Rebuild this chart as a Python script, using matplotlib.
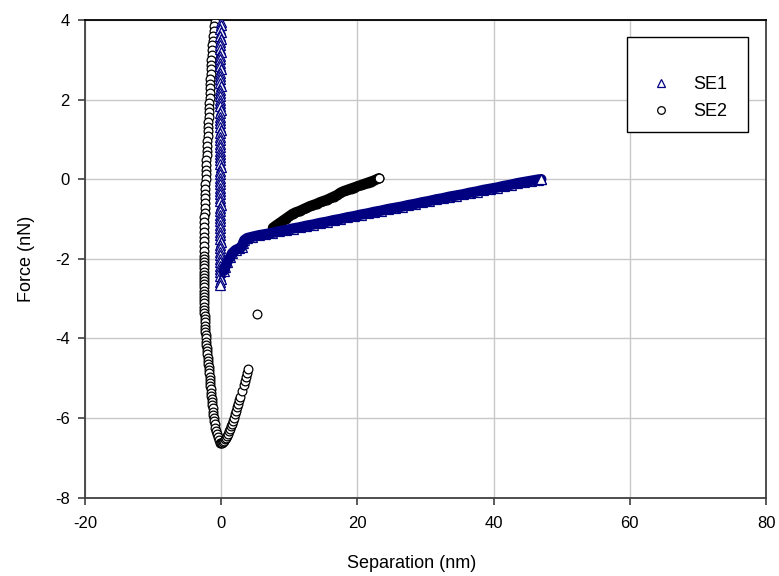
import matplotlib
matplotlib.use("Agg")
import matplotlib.pyplot as plt
from matplotlib.patches import Rectangle

plt.rcParams['font.family'] = ['Liberation Sans', 'DejaVu Sans']
plt.rcParams['axes.unicode_minus'] = False

# ---------------- data ----------------
x_lim = [-20, 80]
y_lim = [-8, 4]
x_ticks = [-20, 0, 20, 40, 60, 80]
y_ticks = [-8, -6, -4, -2, 0, 2, 4]
x_label = "Separation (nm)"
y_label = "Force (nN)"
series_names = ["SE1", "SE2"]

# SE1 approach (vertical contact column)
se1_app_y = [3.95, 3.87, 3.78, 3.70, 3.61, 3.53, 3.44, 3.36, 3.27, 3.19,
             3.10, 3.02, 2.93, 2.85, 2.76, 2.68, 2.59, 2.51, 2.42, 2.34,
             2.25, 2.17, 2.08, 2.00, 1.91, 1.83, 1.74, 1.66, 1.57, 1.49,
             1.40, 1.32, 1.23, 1.15, 1.06, 0.98, 0.89, 0.81, 0.72, 0.64,
             0.55, 0.47, 0.38, 0.30, 0.21, 0.13, 0.04, -0.04, -0.13, -0.21,
             -0.30, -0.38, -0.47, -0.55, -0.64, -0.72, -0.81, -0.89, -0.98, -1.06,
             -1.15, -1.23, -1.32, -1.40, -1.49, -1.57, -1.66, -1.74, -1.83, -1.91,
             -2.00, -2.08, -2.17, -2.25, -2.34, -2.42, -2.51, -2.59, -2.65]
se1_app_x = [-0.05, -0.10, -0.12, -0.08, -0.15, -0.10, -0.18, -0.12, -0.15, -0.10,
             -0.14, -0.18, -0.12, -0.16, -0.10, -0.15, -0.12, -0.18, -0.14, -0.10,
             -0.16, -0.12, -0.15, -0.18, -0.12, -0.14, -0.10, -0.16, -0.13, -0.18,
             -0.12, -0.15, -0.10, -0.14, -0.17, -0.12, -0.15, -0.11, -0.16, -0.13,
             -0.18, -0.12, -0.15, -0.10, -0.14, -0.17, -0.12, -0.15, -0.11, -0.16,
             -0.13, -0.18, -0.12, -0.15, -0.10, -0.14, -0.17, -0.12, -0.15, -0.11,
             -0.16, -0.13, -0.18, -0.12, -0.15, -0.10, -0.14, -0.17, -0.12, -0.15,
             -0.11, -0.16, -0.13, -0.18, -0.12, -0.15, -0.10, -0.12, -0.14]

# SE1 retract
se1_ret_x = [0.4, 0.6, 0.9, 1.35, 1.6, 2.1, 2.6, 3.0, 3.2, 3.4, 3.8,
             4.5, 5.5, 6.5, 7.5, 8.5, 9.5, 10.5, 11.5, 12.5, 13.5,
             14.5, 15.5, 16.5, 17.5, 18.5, 19.5, 20.5, 21.5, 22.5, 23.5,
             24.5, 25.5, 26.5, 27.5, 28.5, 29.5, 30.5, 31.5, 32.5, 33.5,
             34.5, 35.5, 36.5, 37.5, 38.5, 39.5, 40.5, 41.5, 42.5, 43.5,
             44.5, 45.5, 46.5, 47.0]
se1_ret_y = [-2.30, -2.20, -2.07, -1.95, -1.86, -1.78, -1.74, -1.70, -1.61, -1.53, -1.48,
             -1.45, -1.41, -1.38, -1.35, -1.31, -1.28, -1.24, -1.21, -1.17, -1.14,
             -1.10, -1.07, -1.03, -1.00, -0.96, -0.93, -0.89, -0.86, -0.82, -0.79,
             -0.75, -0.72, -0.69, -0.65, -0.62, -0.58, -0.55, -0.51, -0.48, -0.44,
             -0.41, -0.38, -0.34, -0.31, -0.27, -0.24, -0.21, -0.17, -0.14, -0.10,
             -0.07, -0.04, -0.01, 0.00]

# SE2 approach (descending branch + well + rising branch)
se2_app_y = [3.96, 3.84, 3.72, 3.60, 3.48, 3.36, 3.24, 3.12, 3.00, 2.88,
             2.76, 2.64, 2.52, 2.40, 2.28, 2.16, 2.04, 1.92, 1.80, 1.68,
             1.56, 1.44, 1.32, 1.20, 1.08, 0.96, 0.84, 0.72, 0.60, 0.48,
             0.36, 0.24, 0.12, 0.00, -0.12, -0.24, -0.36, -0.48, -0.60, -0.72,
             -0.84, -0.96, -1.08, -1.20, -1.32, -1.44, -1.56, -1.68, -1.80, -1.92,
             -2.00, -2.08, -2.16, -2.24, -2.32, -2.40, -2.48, -2.56, -2.64, -2.72,
             -2.80, -2.88, -2.96, -3.04, -3.12, -3.20, -3.28, -3.36, -3.44, -3.52,
             -3.60, -3.68, -3.76, -3.84, -3.92, -4.00, -4.08, -4.16, -4.24, -4.32,
             -4.40, -4.48, -4.56, -4.64, -4.72, -4.80, -4.88, -4.96, -5.04, -5.12,
             -5.20, -5.28, -5.36, -5.44, -5.52, -5.60, -5.68, -5.76, -5.84, -5.92,
             -6.00, -6.08, -6.16, -6.24, -6.32, -6.40, -6.48, -6.56, -6.62, -6.64,
             -6.62, -6.60, -6.57, -6.53, -6.49, -6.44, -6.39, -6.33, -6.27, -6.21,
             -6.14, -6.07, -5.99, -5.91, -5.82, -5.73, -5.65, -5.56, -5.47, -5.32,
             -5.17, -5.07, -4.98, -4.87, -4.76]
se2_app_x = [-0.90, -1.00, -1.08, -1.16, -1.24, -1.30, -1.36, -1.41, -1.45, -1.49,
             -1.52, -1.55, -1.58, -1.61, -1.64, -1.67, -1.70, -1.73, -1.76, -1.79,
             -1.83, -1.87, -1.90, -1.94, -1.98, -2.02, -2.06, -2.10, -2.13, -2.16,
             -2.20, -2.23, -2.26, -2.29, -2.32, -2.35, -2.37, -2.39, -2.41, -2.43,
             -2.45, -2.46, -2.48, -2.49, -2.50, -2.51, -2.52, -2.53, -2.54, -2.55,
             -2.55, -2.56, -2.56, -2.57, -2.57, -2.57, -2.57, -2.57, -2.57, -2.56,
             -2.56, -2.55, -2.54, -2.53, -2.51, -2.50, -2.48, -2.46, -2.44, -2.42,
             -2.40, -2.37, -2.34, -2.31, -2.28, -2.25, -2.21, -2.17, -2.13, -2.09,
             -2.05, -2.01, -1.96, -1.91, -1.86, -1.81, -1.76, -1.71, -1.67, -1.63,
             -1.58, -1.54, -1.50, -1.46, -1.42, -1.37, -1.32, -1.27, -1.21, -1.15,
             -1.09, -1.02, -0.94, -0.86, -0.76, -0.64, -0.50, -0.34, -0.18, -0.05,
             0.10, 0.25, 0.40, 0.55, 0.70, 0.85, 1.00, 1.15, 1.30, 1.45,
             1.60, 1.75, 1.90, 2.05, 2.20, 2.35, 2.50, 2.65, 2.80, 3.05,
             3.30, 3.50, 3.65, 3.80, 3.90]

# SE2 isolated point (jump)
se2_jump_x = [5.25]
se2_jump_y = [-3.39]

# SE2 retract
se2_ret_x = [7.6, 8.0, 8.5, 9.0, 9.5, 10.0, 10.5, 11.0, 11.5, 12.0,
             12.5, 13.0, 13.5, 14.0, 14.5, 15.0, 15.5, 16.0, 16.5, 17.0,
             17.5, 18.0, 18.5, 19.0, 19.5, 20.0, 20.5, 21.0, 21.5, 22.0,
             22.5, 23.1]
se2_ret_y = [-1.22, -1.17, -1.11, -1.05, -0.99, -0.93, -0.87, -0.83, -0.80, -0.76,
             -0.72, -0.68, -0.65, -0.62, -0.58, -0.55, -0.52, -0.48, -0.44, -0.40,
             -0.34, -0.30, -0.27, -0.24, -0.21, -0.18, -0.15, -0.12, -0.09, -0.06,
             -0.03, 0.02]

# ---------------- styles ----------------
c1 = '#000080'
c2 = '#000000'
grid_c = '#c8c8c8'
spine_c = '#404040'

fig = plt.figure(figsize=(7.79, 5.76), dpi=100)
ax = fig.add_axes([85/779, 1-497.6/576, 681/779, 477.6/576])

ax.set_xlim(x_lim)
ax.set_ylim(y_lim)
ax.set_xticks(x_ticks)
ax.set_yticks(y_ticks)
ax.grid(True, color=grid_c, linewidth=1.0, zorder=0)
ax.set_axisbelow(True)
for s in ax.spines.values():
    s.set_color(spine_c)
    s.set_linewidth(1.3)
ax.spines['top'].set_color('#000000')
ax.tick_params(direction='out', length=5, width=1.2, color=spine_c,
               labelsize=12, pad=6)
ax.tick_params(axis='x', pad=8)

# SE2 curves
ax.plot(se2_app_x, se2_app_y, linestyle='none', marker='o', markersize=6.3,
        markerfacecolor='white', markeredgecolor=c2, markeredgewidth=0.9, zorder=3)
ax.plot(se2_jump_x, se2_jump_y, linestyle='none', marker='o', markersize=6.3,
        markerfacecolor='white', markeredgecolor=c2, markeredgewidth=0.9, zorder=3)
ax.plot(se2_ret_x, se2_ret_y, color=c2, linewidth=7.5, solid_capstyle='round',
        marker='o', markersize=6.3, markerfacecolor='none', markeredgecolor=c2,
        markeredgewidth=0.9, zorder=3)
ax.plot(se2_ret_x[-1:], se2_ret_y[-1:], linestyle='none', marker='o', markersize=6.3,
        markerfacecolor='white', markeredgecolor=c2, markeredgewidth=0.9, zorder=4)

# SE1 curves
ax.plot(se1_app_x, se1_app_y, linestyle='none', marker='^', markersize=7.5,
        markerfacecolor='white', markeredgecolor=c1, markeredgewidth=0.9, zorder=5)
ax.plot(se1_ret_x, se1_ret_y, color=c1, linewidth=7.5, solid_capstyle='round',
        marker='^', markersize=7.5, markerfacecolor='none', markeredgecolor=c1,
        markeredgewidth=0.9, zorder=5)
ax.plot(se1_ret_x[-1:], se1_ret_y[-1:], linestyle='none', marker='^', markersize=7.5,
        markerfacecolor='white', markeredgecolor=c1, markeredgewidth=0.9, zorder=6)

ax.set_xlabel(x_label, fontsize=13)
ax.set_ylabel(y_label, fontsize=13, labelpad=14)
ax.xaxis.set_label_coords((412 - 85) / 681, -(563 - 497.6) / 477.6)
ax.xaxis.label.set_va('center')

# legend
h1 = plt.Line2D([], [], linestyle='none', marker='^', markersize=6,
                markerfacecolor='white', markeredgecolor=c1, markeredgewidth=0.9)
h2 = plt.Line2D([], [], linestyle='none', marker='o', markersize=5.5,
                markerfacecolor='white', markeredgecolor=c2, markeredgewidth=0.9)
ax.add_patch(Rectangle((0.796, 0.7655), 0.178, 0.199, transform=ax.transAxes,
                       facecolor='white', edgecolor='black', linewidth=1.0, zorder=7))
leg = ax.legend([h1, h2], series_names, loc='upper left',
                bbox_to_anchor=(0.832, 0.882), frameon=False, fontsize=13,
                handlelength=1.0, handletextpad=1.3, labelspacing=0.55,
                borderpad=0, borderaxespad=0)
leg.set_zorder(8)

fig.savefig('out.png', dpi=100)
